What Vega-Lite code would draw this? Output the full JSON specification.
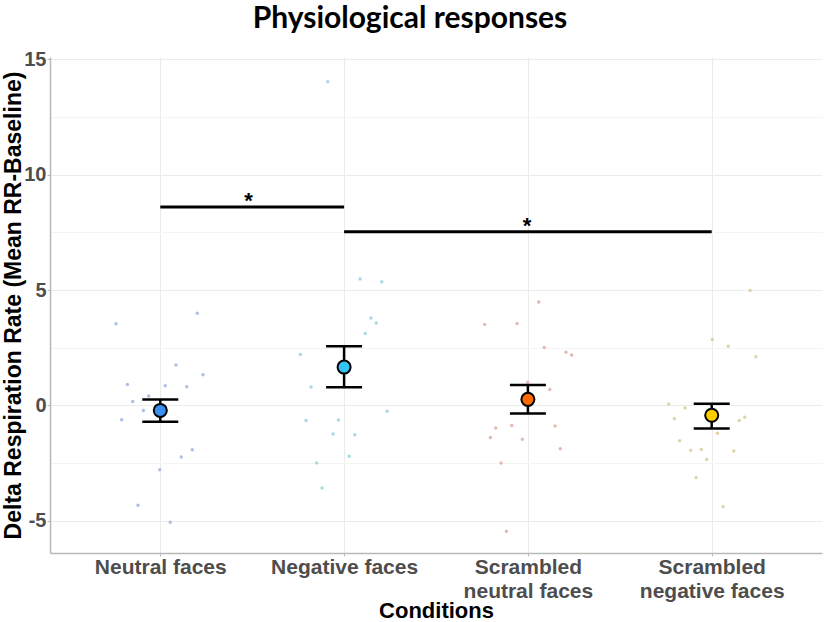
{
  "$schema": "https://vega.github.io/schema/vega-lite/v6.json",
  "autosize": {"type": "none"},
  "padding": {"left": 50, "top": 57, "right": 3, "bottom": 69},
  "width": 772,
  "height": 496,
  "background": "white",
  "title": {
    "text": "Physiological responses",
    "font": "Lato",
    "fontSize": 30,
    "fontWeight": "bold",
    "color": "black",
    "anchor": "middle",
    "baseline": "alphabetic",
    "offset": 20,
    "dy": 29,
    "dx": -26
  },
  "config": {
    "view": {"stroke": null},
    "axis": {
      "labelFont": "Liberation Sans",
      "titleFont": "Liberation Sans"
    }
  },
  "datasets": {
    "points": [
      {"cond": "Neutral faces", "x": 0.759, "value": 3.54},
      {"cond": "Neutral faces", "x": 1.201, "value": 3.99},
      {"cond": "Neutral faces", "x": 1.085, "value": 1.75},
      {"cond": "Neutral faces", "x": 1.232, "value": 1.33},
      {"cond": "Neutral faces", "x": 0.821, "value": 0.90},
      {"cond": "Neutral faces", "x": 1.027, "value": 0.85},
      {"cond": "Neutral faces", "x": 1.144, "value": 0.81},
      {"cond": "Neutral faces", "x": 0.937, "value": 0.41},
      {"cond": "Neutral faces", "x": 0.850, "value": 0.17},
      {"cond": "Neutral faces", "x": 0.908, "value": -0.22},
      {"cond": "Neutral faces", "x": 0.790, "value": -0.62},
      {"cond": "Neutral faces", "x": 1.174, "value": -1.92},
      {"cond": "Neutral faces", "x": 1.114, "value": -2.24},
      {"cond": "Neutral faces", "x": 0.997, "value": -2.79},
      {"cond": "Neutral faces", "x": 0.879, "value": -4.33},
      {"cond": "Neutral faces", "x": 1.054, "value": -5.07},
      {"cond": "Negative faces", "x": 1.911, "value": 14.03},
      {"cond": "Negative faces", "x": 2.087, "value": 5.48},
      {"cond": "Negative faces", "x": 2.205, "value": 5.36},
      {"cond": "Negative faces", "x": 2.146, "value": 3.79},
      {"cond": "Negative faces", "x": 2.175, "value": 3.57},
      {"cond": "Negative faces", "x": 2.115, "value": 3.11},
      {"cond": "Negative faces", "x": 1.762, "value": 2.20},
      {"cond": "Negative faces", "x": 1.820, "value": 0.80},
      {"cond": "Negative faces", "x": 2.234, "value": -0.26},
      {"cond": "Negative faces", "x": 1.793, "value": -0.66},
      {"cond": "Negative faces", "x": 1.969, "value": -0.63},
      {"cond": "Negative faces", "x": 1.940, "value": -1.24},
      {"cond": "Negative faces", "x": 2.058, "value": -1.27},
      {"cond": "Negative faces", "x": 2.028, "value": -2.21},
      {"cond": "Negative faces", "x": 1.851, "value": -2.50},
      {"cond": "Negative faces", "x": 1.880, "value": -3.58},
      {"cond": "Scrambled neutral faces", "x": 3.059, "value": 4.48},
      {"cond": "Scrambled neutral faces", "x": 2.765, "value": 3.51},
      {"cond": "Scrambled neutral faces", "x": 2.941, "value": 3.55},
      {"cond": "Scrambled neutral faces", "x": 3.089, "value": 2.51},
      {"cond": "Scrambled neutral faces", "x": 3.207, "value": 2.30},
      {"cond": "Scrambled neutral faces", "x": 3.238, "value": 2.18},
      {"cond": "Scrambled neutral faces", "x": 2.999, "value": 1.00},
      {"cond": "Scrambled neutral faces", "x": 3.119, "value": 0.69},
      {"cond": "Scrambled neutral faces", "x": 2.825, "value": -0.98},
      {"cond": "Scrambled neutral faces", "x": 2.912, "value": -0.87},
      {"cond": "Scrambled neutral faces", "x": 2.796, "value": -1.39},
      {"cond": "Scrambled neutral faces", "x": 2.970, "value": -1.47},
      {"cond": "Scrambled neutral faces", "x": 3.148, "value": -0.89},
      {"cond": "Scrambled neutral faces", "x": 3.176, "value": -1.88},
      {"cond": "Scrambled neutral faces", "x": 2.854, "value": -2.50},
      {"cond": "Scrambled neutral faces", "x": 2.883, "value": -5.46},
      {"cond": "Scrambled negative faces", "x": 4.209, "value": 4.98},
      {"cond": "Scrambled negative faces", "x": 4.003, "value": 2.85},
      {"cond": "Scrambled negative faces", "x": 4.090, "value": 2.56},
      {"cond": "Scrambled negative faces", "x": 4.240, "value": 2.11},
      {"cond": "Scrambled negative faces", "x": 3.766, "value": 0.06},
      {"cond": "Scrambled negative faces", "x": 3.855, "value": -0.11},
      {"cond": "Scrambled negative faces", "x": 3.797, "value": -0.58},
      {"cond": "Scrambled negative faces", "x": 4.150, "value": -0.66},
      {"cond": "Scrambled negative faces", "x": 4.180, "value": -0.52},
      {"cond": "Scrambled negative faces", "x": 4.031, "value": -1.21},
      {"cond": "Scrambled negative faces", "x": 3.826, "value": -1.53},
      {"cond": "Scrambled negative faces", "x": 3.886, "value": -1.95},
      {"cond": "Scrambled negative faces", "x": 3.943, "value": -1.91},
      {"cond": "Scrambled negative faces", "x": 4.120, "value": -1.98},
      {"cond": "Scrambled negative faces", "x": 3.973, "value": -2.35},
      {"cond": "Scrambled negative faces", "x": 3.915, "value": -3.13},
      {"cond": "Scrambled negative faces", "x": 4.062, "value": -4.39}
    ],
    "summary": [
      {"cond": "Neutral faces", "x": 1, "mean": -0.22, "lo": -0.71, "hi": 0.25},
      {"cond": "Negative faces", "x": 2, "mean": 1.66, "lo": 0.78, "hi": 2.56},
      {"cond": "Scrambled neutral faces", "x": 3, "mean": 0.26, "lo": -0.35, "hi": 0.88},
      {"cond": "Scrambled negative faces", "x": 4, "mean": -0.43, "lo": -1.0, "hi": 0.07}
    ],
    "sig": [
      {"x": 1, "x2": 2, "value": 8.6, "star_x": 1.48},
      {"x": 2, "x2": 4, "value": 7.52, "star_x": 2.995}
    ]
  },
  "layer": [
    {
      "data": {"name": "points"},
      "mark": {"type": "circle", "size": 12, "opacity": 0.9},
      "encoding": {
        "x": {
          "field": "x", "type": "quantitative",
          "scale": {"domain": [0.4, 4.6], "nice": false, "zero": false},
          "axis": {
            "title": "Conditions",
            "values": [1, 2, 3, 4],
            "labelExpr": "datum.value == 1 ? 'Neutral faces' : datum.value == 2 ? 'Negative faces' : datum.value == 3 ? ['Scrambled', 'neutral faces'] : ['Scrambled', 'negative faces']",
            "labelFontSize": 21,
            "labelFontWeight": "bold",
            "labelColor": "#4d4d4d",
            "labelLineHeight": 24,
            "labelPadding": 0,
            "labelFlush": false,
            "labelOverlap": false,
            "grid": true,
            "gridColor": "#ebebeb",
            "gridWidth": 1,
            "domainColor": "#b8b8b8",
            "domainWidth": 1.5,
            "tickColor": "#b8b8b8",
            "tickSize": 3,
            "titleFontSize": 22,
            "titleFontWeight": "bold",
            "titleColor": "black",
            "titleBaseline": "alphabetic",
            "titleY": 64,
            "titleX": 386,
            "titleAnchor": null
          }
        },
        "y": {
          "field": "value", "type": "quantitative",
          "scale": {"domain": [-6.4, 15.1], "nice": false, "zero": false},
          "axis": {
            "title": "Delta Respiration Rate (Mean RR-Baseline)",
            "values": [-5, -2.5, 0, 2.5, 5, 7.5, 10, 12.5, 15],
            "labelExpr": "datum.value % 5 == 0 ? toString(datum.value) : ''",
            "labelFontSize": 20,
            "labelFontWeight": "bold",
            "labelColor": "#4d4d4d",
            "labelPadding": 1,
            "grid": true,
            "gridColor": {"condition": {"test": "datum.value % 5 != 0", "value": "#f4f4f4"}, "value": "#ebebeb"},
            "gridWidth": 1,
            "domainColor": "#b8b8b8",
            "domainWidth": 1.5,
            "tickColor": "#b8b8b8",
            "tickOpacity": {"condition": {"test": "datum.value % 5 != 0", "value": 0}, "value": 1},
            "tickSize": 3,
            "titleFontSize": 23,
            "titleFontWeight": "bold",
            "titleColor": "black",
            "titleAngle": -90,
            "titleBaseline": "alphabetic",
            "titleAlign": "center",
            "titleX": -30,
            "titleY": 248
          }
        },
        "color": {
          "field": "cond", "type": "nominal",
          "scale": {
            "domain": ["Neutral faces", "Negative faces", "Scrambled neutral faces", "Scrambled negative faces"],
            "range": ["#a3b9e2", "#9fd6df", "#dfb3a6", "#dccf9f"]
          },
          "legend": null
        }
      }
    },
    {
      "data": {"name": "summary"},
      "mark": {"type": "rule", "color": "black", "strokeWidth": 2.5},
      "encoding": {
        "x": {"field": "x", "type": "quantitative"},
        "y": {"field": "lo", "type": "quantitative"},
        "y2": {"field": "hi"}
      }
    },
    {
      "data": {"name": "summary"},
      "mark": {"type": "tick", "orient": "horizontal", "color": "black", "size": 36, "thickness": 2.5, "opacity": 1},
      "encoding": {
        "x": {"field": "x", "type": "quantitative"},
        "y": {"field": "lo", "type": "quantitative"}
      }
    },
    {
      "data": {"name": "summary"},
      "mark": {"type": "tick", "orient": "horizontal", "color": "black", "size": 36, "thickness": 2.5, "opacity": 1},
      "encoding": {
        "x": {"field": "x", "type": "quantitative"},
        "y": {"field": "hi", "type": "quantitative"}
      }
    },
    {
      "data": {"name": "summary"},
      "mark": {"type": "point", "shape": "circle", "filled": true, "size": 170, "stroke": "black", "strokeWidth": 2, "opacity": 1},
      "encoding": {
        "x": {"field": "x", "type": "quantitative"},
        "y": {"field": "mean", "type": "quantitative"},
        "fill": {
          "field": "cond", "type": "nominal",
          "scale": {
            "domain": ["Neutral faces", "Negative faces", "Scrambled neutral faces", "Scrambled negative faces"],
            "range": ["#3a8ff2", "#33c4f5", "#ff6a00", "#ffcc00"]
          },
          "legend": null
        }
      }
    },
    {
      "data": {"name": "sig"},
      "mark": {"type": "rule", "color": "black", "strokeWidth": 3},
      "encoding": {
        "x": {"field": "x", "type": "quantitative"},
        "x2": {"field": "x2"},
        "y": {"field": "value", "type": "quantitative"}
      }
    },
    {
      "data": {"name": "sig"},
      "mark": {"type": "text", "text": "*", "font": "Liberation Sans", "fontWeight": "bold", "fontSize": 22, "color": "black", "baseline": "alphabetic", "align": "center", "dy": 1},
      "encoding": {
        "x": {"field": "star_x", "type": "quantitative"},
        "y": {"field": "value", "type": "quantitative"}
      }
    }
  ]
}
